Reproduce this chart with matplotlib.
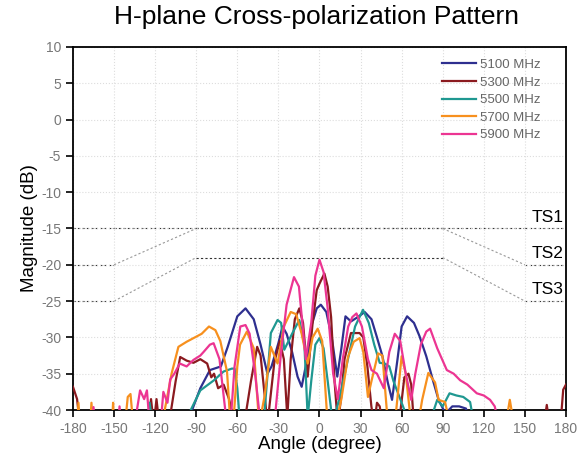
import matplotlib
matplotlib.use("Agg")
import matplotlib.pyplot as plt

plt.rcParams['font.family'] = ['Liberation Sans', 'DejaVu Sans']
plt.rcParams['axes.unicode_minus'] = False

# -42 means the trace is below the axis floor (-40 dB)
ang_5100 = [-180, -96, -93, -87, -80, -72, -67, -60, -54, -48, -43, -38, -35, -30, -27, -24, -20, -16,
            -13, -9, -6, -2, 1, 5, 9, 13, 16, 19, 23, 28, 33, 38, 42, 46, 50, 53, 57, 60, 64, 69, 73,
            78, 83, 87, 92, 97, 102, 107, 110, 180]
mag_5100 = [-42, -42, -40, -37, -34.5, -34, -31.3, -27.1, -26, -27.5, -31, -35, -34, -30.8, -28.5,
            -29.5, -32, -35.4, -36.8, -33, -28.5, -26, -25.5, -26.5, -30, -35.4, -31.5, -27.1, -27.8,
            -27.2, -26.5, -27.5, -30, -32.6, -36.3, -38.6, -33, -28.5, -27.1, -28, -29.8, -32.6, -36,
            -38.6, -40.5, -39.5, -39.5, -39.8, -42, -42]

ang_5300 = [-180, -177, -175, -125, -123, -121, -119, -117, -110, -105, -101.7, -97, -92, -87, -82,
            -79, -77, -74, -70, -66, -62, -55, -50, -45.5, -43, -40, -38, -33, -29, -26, -23.5, -21,
            -18, -14.7, -12, -8.6, -5, -2, 0, 3.6, 6, 8.5, 11, 13.4, 16, 18.3, 23, 29.3, 32, 35, 37.9,
            40, 42, 44, 46, 58, 62, 65, 67, 69, 164, 166, 168, 176, 178, 180]
mag_5300 = [-36.8, -38.5, -42, -42, -38.5, -42, -38.5, -42, -42, -36, -32.7, -33.2, -33.5, -33, -33.6,
            -35.5, -35, -37, -36.5, -38.5, -42, -42, -36, -31.3, -32.5, -38, -42, -33.5, -30.5, -33,
            -41, -33, -27.5, -26, -28, -35.4, -28, -23.5, -22.6, -21.2, -23, -27.2, -36, -42, -38, -33,
            -29.4, -29.4, -30, -34, -39.5, -42, -39, -39.5, -42, -42, -35.5, -35, -36.5, -42, -42,
            -39.3, -42, -42, -37.2, -36.5]

ang_5500 = [-180, -126, -124, -122, -96, -94, -87, -77, -70, -64, -62, -60, -58, -42, -40, -35.5, -30.6,
            -28, -25.7, -20, -14.7, -11, -8.6, -6, -3, 0, 3, 6, 9.8, 15, 20.8, 26, 31.8, 36, 40, 44,
            47.7, 51, 54, 56, 60, 66, 80, 86, 90, 95, 100, 105, 110, 113, 180]
mag_5500 = [-42, -42, -39, -42, -42, -40, -37.3, -35.9, -34.7, -34.3, -34.3, -37, -42, -42, -40, -29.4,
            -27.6, -28, -31.7, -29.5, -27.6, -31, -41, -36, -31, -30.1, -31.5, -36, -42, -38, -33,
            -28.5, -26.2, -28, -31, -33.5, -33.6, -34, -36, -37, -39, -42, -42, -38.6, -39.5, -37.7,
            -38, -38.2, -38.9, -42, -42]

ang_5700 = [-180, -177, -176, -175, -167.5, -166.5, -165.5, -151.5, -150.7, -150, -142, -140, -138, -136,
            -118, -113, -108, -103, -97, -92, -86, -80.7, -76, -72.4, -67.5, -65, -63, -60, -58, -53,
            -48, -44, -40, -35.5, -30.6, -26, -21, -17, -13, -8.6, -5, -1.3, 2, 6, 12, 16, 20.8, 25,
            29.3, 32, 35.4, 38, 42.8, 46, 50, 55, 60, 63, 67, 72, 75, 79.5, 84.4, 87, 91.7, 95.4, 136,
            139, 142, 180]
mag_5700 = [-42, -42, -39, -42, -42, -39, -42, -42, -39, -42, -42, -38.2, -37.8, -42, -42, -40, -35,
            -31.3, -30.6, -30.1, -29.5, -28.5, -29, -30.5, -34.7, -42, -42, -34, -31, -29.2, -31.5, -42,
            -38, -31.3, -33.6, -28.5, -26.5, -26.8, -29.5, -33.6, -30, -28.8, -30.5, -42, -42, -38.5,
            -32.7, -30.6, -30.1, -32, -38.2, -36, -32.2, -32.5, -42, -42, -32.6, -35, -42, -42, -38.6,
            -34.9, -36.2, -38.6, -38.9, -42, -42, -38.6, -42, -42]

ang_5900 = [-180, -166, -165, -164, -147, -146, -145, -135, -131, -128, -126, -124, -116, -114, -111,
            -109, -106, -102, -97, -92, -87, -84.6, -80, -77.3, -73, -68.8, -65, -62, -57.8, -54, -51,
            -47, -43, -38, -32, -28, -24, -18.6, -15, -10, -6, -3, 0, 3, 6, 10, 13.4, 17, 21, 24, 27,
            31, 35.4, 38, 42, 47, 51, 55, 59, 63, 67, 70, 74, 78, 80.8, 86, 93, 98, 102.7, 108, 114.9,
            120, 124.6, 128, 131, 180]
mag_5900 = [-42, -42, -39.6, -42, -42, -39.5, -42, -42, -37.3, -38.5, -37.3, -42, -42, -37.5, -39,
            -35.8, -35, -33.6, -34, -33.1, -32.5, -32, -31, -30.8, -33, -40, -42, -34, -28.5, -28.3,
            -29.5, -35, -42, -42, -40, -32, -25.5, -21.7, -23, -33, -28, -21.5, -19.3, -21, -26, -35,
            -38.5, -33, -28.5, -27.2, -26.7, -28.5, -33, -34.5, -35, -37, -32, -29.5, -30.5, -35, -38.6,
            -35, -31, -29.2, -28.8, -31.5, -34.5, -35, -35.9, -36.5, -37.7, -38, -38.6, -39.5, -42, -42]

series = [("5100 MHz", ang_5100, mag_5100, "#2e2f8f"),
          ("5300 MHz", ang_5300, mag_5300, "#8b1a1f"),
          ("5500 MHz", ang_5500, mag_5500, "#1f9891"),
          ("5700 MHz", ang_5700, mag_5700, "#f7901e"),
          ("5900 MHz", ang_5900, mag_5900, "#ec3592")]

# spec masks
mask_ang = [-180, -150, -90, 90, 150, 180]
ts1 = [-15, -15, -15, -15, -15, -15]
ts2 = [-20, -20, -15, -15, -20, -20]
ts3 = [-25, -25, -19, -19, -25, -25]

fig = plt.figure(figsize=(5.81, 4.58), dpi=100)
ax = fig.add_axes([0.1256, 0.1048, 0.8485, 0.7926])

for lvl in [ts1, ts2, ts3]:
    for i in range(len(mask_ang) - 1):
        flat = lvl[i] == lvl[i + 1]
        ax.plot(mask_ang[i:i + 2], lvl[i:i + 2], ls=(0, (2, 2)), lw=0.8,
                color="#333333" if flat else "#999999", zorder=1)

for name, a, m, c in series:
    ax.plot(a, m, color=c, lw=1.6, label=name, zorder=3)

ax.text(178, -14.5, "TS1", ha="right", va="bottom", fontsize=12.5)
ax.text(178, -19.5, "TS2", ha="right", va="bottom", fontsize=12.5)
ax.text(178, -24.5, "TS3", ha="right", va="bottom", fontsize=12.5)

ax.set_xlim(-180, 180)
ax.set_ylim(-40, 10)
ax.set_xticks(range(-180, 181, 30))
ax.set_yticks(range(-40, 11, 5))
ax.grid(True, ls=":", color="#dddddd", lw=0.8)
ax.tick_params(direction="out", length=5, width=1.2, labelsize=10, labelcolor="#777777",
               top=False, right=False)
for s in ax.spines.values():
    s.set_linewidth(1.3)

ax.set_xlabel("Angle (degree)", fontsize=13.5, labelpad=0)
ax.set_ylabel("Magnitude (dB)", fontsize=13.5, labelpad=2)
fig.suptitle("H-plane Cross-polarization Pattern", fontsize=19, x=0.545, y=0.99)

leg = ax.legend(loc="upper right", bbox_to_anchor=(0.972, 1.0), frameon=False, fontsize=9.5,
                handlelength=2.6, labelspacing=0.4, handletextpad=0.25)
for t in leg.get_texts():
    t.set_color("#666666")

fig.savefig("out.png", dpi=100)
